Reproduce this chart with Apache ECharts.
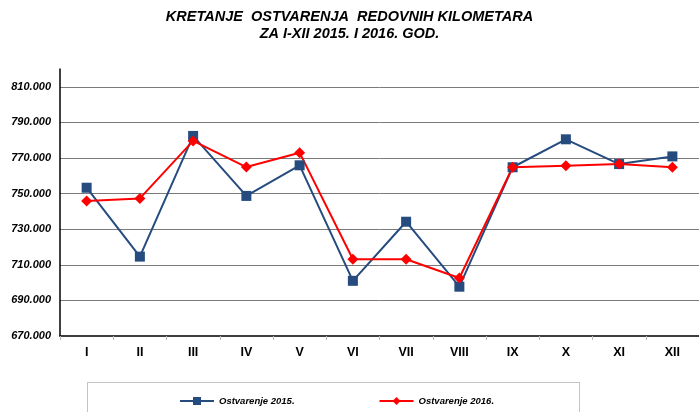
<!DOCTYPE html>
<html>
<head>
<meta charset="utf-8">
<script src="https://cdn.jsdelivr.net/npm/echarts@6/dist/echarts.min.js"></script>
<style>
  html, body { margin: 0; padding: 0; background: #fff; }
  #chart { width: 699px; height: 412px; }
</style>
</head>
<body>
<div id="chart"></div>
<script>
// mjeseci
var months = ["I", "II", "III", "IV", "V", "VI", "VII", "VIII", "IX", "X", "XI", "XII"];
// ostvareni kilometri po mjesecima
var km2015 = [753300, 714600, 782400, 748700, 765900, 701000, 734200, 697700, 764800, 780500, 766600, 770900];
var km2016 = [745800, 747300, 779600, 764900, 773000, 713100, 713100, 702600, 764800, 765700, 766600, 764800];
var seriesNames = ["Ostvarenje 2015.", "Ostvarenje 2016."];

// 810000 -> "810.000"
function fmt(v) {
    return String(Math.round(v)).replace(/\B(?=(\d{3})+(?!\d))/g, ".");
}

var myChart = echarts.init(document.getElementById("chart"));

var font = "'Liberation Sans', Arial, sans-serif";

var option = {
    animation: false,
    title: {
        text: "KRETANJE  OSTVARENJA  REDOVNIH KILOMETARA\nZA I-XII 2015. I 2016. GOD.",
        left: "center",
        top: 3,
        textStyle: {
            fontFamily: font,
            fontSize: 14.5,
            fontWeight: "bold",
            fontStyle: "italic",
            color: "#000",
            lineHeight: 17
        }
    },
    grid: {
        left: 60,
        right: -8,
        top: 69,
        bottom: 76
    },
    xAxis: {
        type: "category",
        data: months,
        boundaryGap: true,
        axisLine: { lineStyle: { color: "#000", width: 1.5 } },
        axisTick: { show: true, length: 4, lineStyle: { color: "#bbb" } },
        axisLabel: {
            margin: 10,
            fontFamily: font,
            fontSize: 12.5,
            fontWeight: "bold",
            color: "#000"
        }
    },
    yAxis: {
        type: "value",
        min: 670000,
        max: 820000,
        interval: 20000,
        axisLine: { show: true, lineStyle: { color: "#000", width: 1.5 } },
        axisTick: { show: false },
        axisLabel: {
            margin: 9,
            showMaxLabel: false,
            fontFamily: font,
            fontSize: 11,
            fontWeight: "bold",
            fontStyle: "italic",
            color: "#000",
            formatter: fmt
        },
        splitLine: {
            show: true,
            showMinLine: false,
            showMaxLine: false,
            lineStyle: { color: "#7a7a7a", width: 1 }
        }
    },
    legend: {
        data: seriesNames,
        left: 174,
        top: 391,
        itemWidth: 34,
        itemHeight: 10,
        itemGap: 84,
        textStyle: {
            fontFamily: font,
            fontSize: 9.5,
            fontWeight: "bold",
            fontStyle: "italic",
            color: "#000"
        }
    },
    graphic: [{
        type: "rect",
        shape: { x: 87.5, y: 382.5, width: 492, height: 40 },
        style: { fill: "none", stroke: "#888", lineWidth: 1, lineDash: [1, 1] },
        silent: true
    }],
    series: [
        {
            name: seriesNames[0],
            type: "line",
            data: km2015,
            symbol: "rect",
            symbolSize: 10,
            lineStyle: { color: "#254B7F", width: 2 },
            itemStyle: { color: "#254B7F" }
        },
        {
            name: seriesNames[1],
            type: "line",
            data: km2016,
            symbol: "diamond",
            symbolSize: 11,
            lineStyle: { color: "#FF0000", width: 2 },
            itemStyle: { color: "#FF0000" }
        }
    ]
};

myChart.setOption(option);
</script>
</body>
</html>
